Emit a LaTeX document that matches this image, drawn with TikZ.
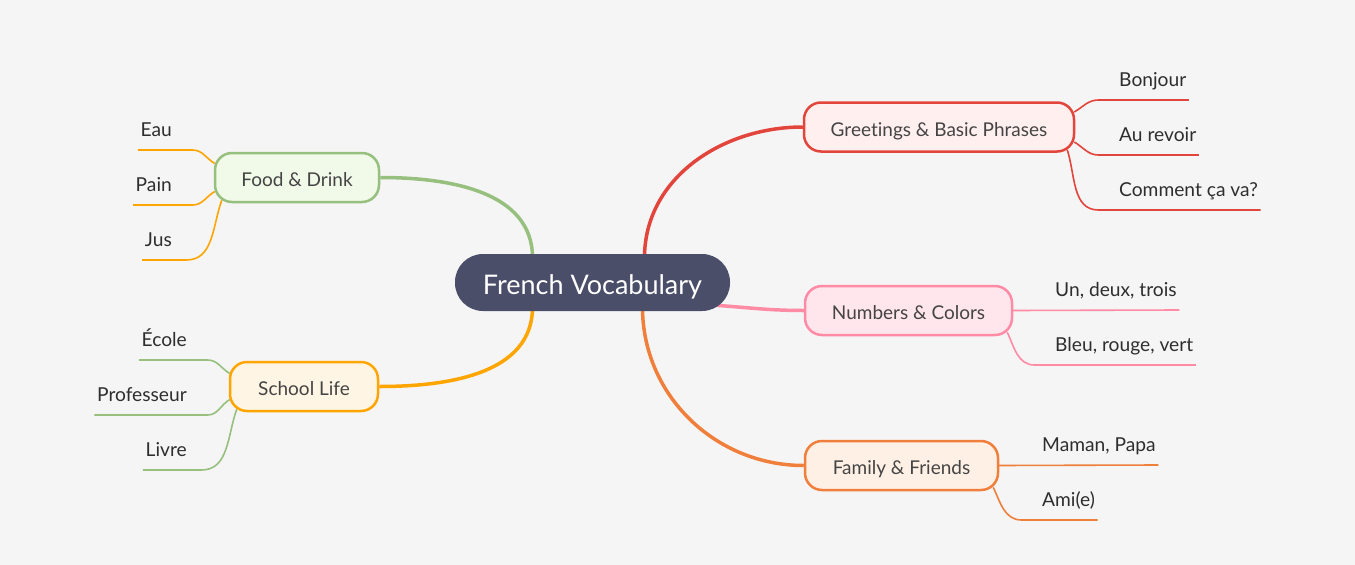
\documentclass[tikz,border=0pt]{standalone}
\usepackage{fontspec}
\setmainfont[Ligatures=NoCommon]{Lato}
\usetikzlibrary{calc}
\pgfdeclarelayer{background}
\pgfsetlayers{background,main}
\definecolor{bgc}{HTML}{F5F5F5}
\definecolor{centralc}{HTML}{4A4E69}
\definecolor{nodetext}{HTML}{444444}
\definecolor{leaftext}{HTML}{2E2E2E}
\definecolor{redc}{HTML}{E2453B}
\definecolor{redf}{HTML}{FFEFEE}
\definecolor{pinkc}{HTML}{FF8BA5}
\definecolor{pinkf}{HTML}{FFE5EC}
\definecolor{orangec}{HTML}{F07F3C}
\definecolor{orangef}{HTML}{FFF0E5}
\definecolor{greenc}{HTML}{97BF7E}
\definecolor{greenf}{HTML}{F1F9E8}
\definecolor{yellowc}{HTML}{FFA500}
\definecolor{yellowf}{HTML}{FFF5E5}
\begin{document}
\begin{tikzpicture}[x=1pt,y=-1pt,
  central/.style={fill=centralc, text=white, rounded corners=28pt, minimum width=275pt, minimum height=57pt, inner sep=0pt, text height=23pt, text depth=0pt, font=\fontsize{27}{32}\selectfont},
  topic/.style={draw, line width=2.5pt, rounded corners=17pt, minimum height=49pt, inner sep=0pt, text height=18pt, text depth=0pt, text=nodetext, font=\fontsize{19}{23}\selectfont},
  leaf/.style={text=leaftext, font=\fontsize{19.2}{23}\selectfont, text depth=0pt, inner xsep=2.5pt, inner ysep=13.5pt},
  branch/.style={line width=3.5pt},
  twig/.style={line width=1.6pt}
]
\useasboundingbox (0,0) rectangle (1355,565);
% nodes
\node[central] (c) at (592.5,282.5) {French Vocabulary};
\node[topic, draw=redc, fill=redf, minimum width=270pt] (g) at (939,127) {Greetings \& Basic Phrases};
\node[topic, draw=pinkc, fill=pinkf, minimum width=207pt] (n) at (908.5,310.5) {Numbers \& Colors};
\node[topic, draw=orangec, fill=orangef, minimum width=193pt] (f) at (901.5,465.5) {Family \& Friends};
\node[topic, draw=greenc, fill=greenf, minimum width=164pt] (fd) at (297,177.5) {Food \& Drink};
\node[topic, draw=yellowc, fill=yellowf, minimum width=148pt] (s) at (304,386.5) {School Life};
% leaves right
\node[leaf, anchor=south west] (g1) at (1116.5,100) {Bonjour};
\node[leaf, anchor=south west] (g2) at (1116.5,155) {Au revoir};
\node[leaf, anchor=south west] (g3) at (1116.5,210) {Comment ça va?};
\node[leaf, anchor=south west] (n1) at (1052.5,310) {Un, deux, trois};
\node[leaf, anchor=south west] (n2) at (1052.5,365) {Bleu, rouge, vert};
\node[leaf, anchor=south west] (f1) at (1039.5,465) {Maman, Papa};
\node[leaf, anchor=south west] (f2) at (1039.5,520) {Ami(e)};
% leaves left
\node[leaf, anchor=south east] (d1) at (174.5,150) {Eau};
\node[leaf, anchor=south east] (d2) at (174.5,205) {Pain};
\node[leaf, anchor=south east] (d3) at (174.5,260) {Jus};
\node[leaf, anchor=south east] (s1) at (189.5,360) {École};
\node[leaf, anchor=south east] (s2) at (189.5,415) {Professeur};
\node[leaf, anchor=south east] (s3) at (189.5,470) {Livre};
\begin{pgfonlayer}{background}
\fill[bgc] (0,0) rectangle (1355,565);
% main branches
\draw[branch, redc] ($(c.north)+(52,4)$) to[out=90,in=180] (g.west);
\draw[branch, pinkc] ($(c.center)+(110,22)$) to[out=-3,in=180] (n.west);
\draw[branch, orangec] ($(c.south)+(50,-4)$) to[out=-90,in=180] (f.west);
\draw[branch, greenc] ($(c.north)+(-60,4)$) to[out=90,in=0] (fd.east);
\draw[branch, yellowc] ($(c.south)+(-60,-4)$) to[out=-90,in=0] (s.east);
% twigs right
\draw[twig, redc] ($(g.east)+(-1,-15)$) to[out=30,in=180] ($(g1.south west)+(-18,0)$) -- (g1.south east);
\draw[twig, redc] ($(g.east)+(-1,15)$) to[out=-30,in=180] ($(g2.south west)+(-18,0)$) -- (g2.south east);
\draw[twig, redc] ($(g.south east)+(-8,-3)$) to[out=-72,in=180] ($(g3.south west)+(-18,0)$) -- (g3.south east);
\draw[twig, pinkc] ($(n.east)+(-1,0)$) -- (n1.south east);
\draw[twig, pinkc] ($(n.south east)+(-6,-4)$) to[out=-65,in=180] ($(n2.south west)+(-18,0)$) -- (n2.south east);
\draw[twig, orangec] ($(f.east)+(-1,0)$) -- (f1.south east);
\draw[twig, orangec] ($(f.south east)+(-6,-4)$) to[out=-65,in=180] ($(f2.south west)+(-18,0)$) -- (f2.south east);
% twigs left
\draw[twig, yellowc] (d1.south west) -- ($(d1.south east)+(18,0)$) to[out=0,in=150] ($(fd.west)+(1,-14)$);
\draw[twig, yellowc] (d2.south west) -- ($(d2.south east)+(18,0)$) to[out=0,in=210] ($(fd.west)+(1,14)$);
\draw[twig, yellowc] (d3.south west) -- ($(d3.south east)+(12,0)$) to[out=0,in=250] ($(fd.south west)+(8,-3)$);
\draw[twig, greenc] (s1.south west) -- ($(s1.south east)+(18,0)$) to[out=0,in=150] ($(s.west)+(1,-13)$);
\draw[twig, greenc] (s2.south west) -- ($(s2.south east)+(18,0)$) to[out=0,in=210] ($(s.west)+(1,13)$);
\draw[twig, greenc] (s3.south west) -- ($(s3.south east)+(12,0)$) to[out=0,in=250] ($(s.south west)+(8,-3)$);
\end{pgfonlayer}
\end{tikzpicture}
\end{document}
